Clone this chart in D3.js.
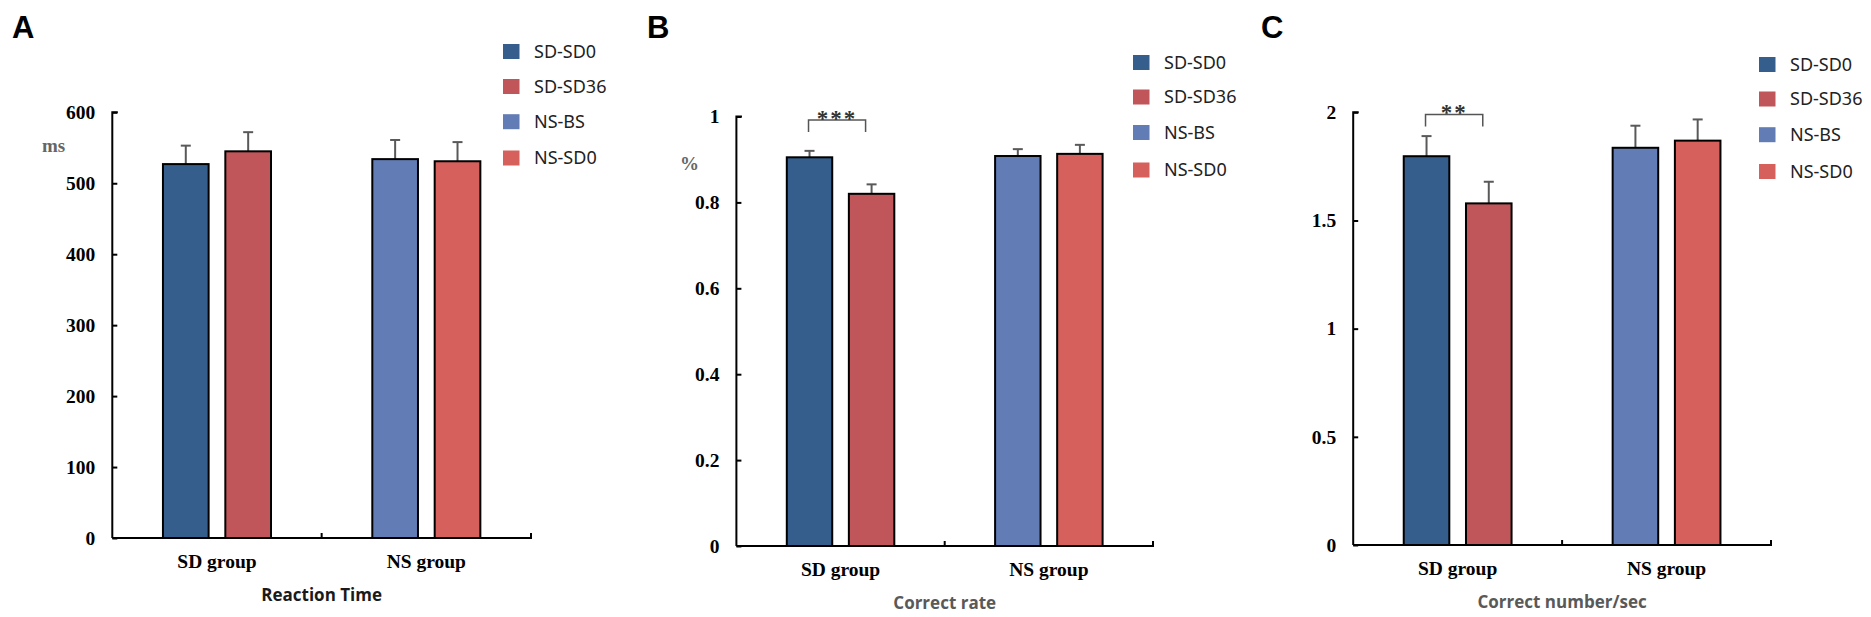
<!DOCTYPE html>
<html>
<head>
<meta charset="utf-8">
<script src="https://cdn.jsdelivr.net/npm/d3@7"></script>
<style>
  html, body { margin: 0; padding: 0; background: #fff; }
  svg { display: block; }
</style>
</head>
<body>
<svg id="chart" width="1871" height="617"></svg>
<script>
// ---------------- DATA ----------------
const categories = ["SD group", "NS group"];
const seriesNames = ["SD-SD0", "SD-SD36", "NS-BS", "NS-SD0"];
const seriesGroup = [0, 0, 1, 1];          // which category each series belongs to
const seriesColors = ["#365e8c", "#c0565a", "#627cb6", "#d5605c"];

const rtMeans = [527, 545, 534, 531];
const rtErrors = [26, 27, 27, 27];
const rtTicks = [0, 100, 200, 300, 400, 500, 600];

const crMeans = [0.905, 0.820, 0.908, 0.913];
const crErrors = [0.015, 0.022, 0.016, 0.021];
const crTicks = [0, 0.2, 0.4, 0.6, 0.8, 1];

const cnMeans = [1.797, 1.579, 1.836, 1.869];
const cnErrors = [0.093, 0.100, 0.102, 0.098];
const cnTicks = [0, 0.5, 1, 1.5, 2];

const panelLetters = ["A", "B", "C"];
const axisTitles = ["Reaction Time", "Correct rate", "Correct number/sec"];
const unitLabels = ["ms", "%", ""];
const crBracket = { top: 0.992, label: "***" };
const cnBracket = { top: 1.99, label: "**" };

// ---------------- LAYOUT ----------------
const panels = [
  { letter: panelLetters[0], means: rtMeans, errors: rtErrors, ticks: rtTicks, max: 600,
    title: axisTitles[0], unit: unitLabels[0], bracket: null,
    x0: 112.3, x1: 531, yTop: 112.3, yBot: 538, letterX: 12,
    legendX: 503, legendY: [51.5, 86.5, 121.7, 158], titleColor: "#1a1a1a",
    unitX: 42, unitY: 145, tickFmt: d3.format("d") },
  { letter: panelLetters[1], means: crMeans, errors: crErrors, ticks: crTicks, max: 1,
    title: axisTitles[1], unit: unitLabels[1], bracket: crBracket,
    x0: 736.4, x1: 1153, yTop: 116.5, yBot: 546, letterX: 647,
    legendX: 1133, legendY: [62.5, 97, 132.5, 170], titleColor: "#595959",
    unitX: 680, unitY: 163, tickFmt: d => d === 0 || d === 1 ? String(d) : d3.format(".1f")(d) },
  { letter: panelLetters[2], means: cnMeans, errors: cnErrors, ticks: cnTicks, max: 2,
    title: axisTitles[2], unit: unitLabels[2], bracket: cnBracket,
    x0: 1353.2, x1: 1771, yTop: 112.3, yBot: 545, letterX: 1261,
    legendX: 1759, legendY: [64.5, 99, 134.7, 171.5], titleColor: "#595959",
    unitX: 0, unitY: 0, tickFmt: d => String(d) }
];

const svg = d3.select("#chart");
const serif = "'Liberation Serif', 'Times New Roman', serif";

panels.forEach(p => {
  const g = svg.append("g");

  const x = d3.scaleBand().domain(categories).range([p.x0, p.x1]).paddingInner(0).paddingOuter(0);
  const inner = d3.scaleBand().domain([0, 1]).range([0, x.bandwidth()])
    .paddingInner(0.268).paddingOuter(0.812);
  const y = d3.scaleLinear().domain([0, p.max]).range([p.yBot, p.yTop]);

  const bars = p.means.map((m, i) => ({
    name: seriesNames[i], mean: m, err: p.errors[i],
    cat: categories[seriesGroup[i]], slot: i % 2, color: seriesColors[i]
  }));
  const barX = d => x(d.cat) + inner(d.slot);
  const barC = d => barX(d) + inner.bandwidth() / 2;

  // Panel letter
  g.append("text").attr("x", p.letterX).attr("y", 38)
    .style("font-family", "'Liberation Sans', Arial, sans-serif")
    .style("font-weight", "bold").style("font-size", "31px").attr("fill", "#000")
    .text(p.letter);

  // Error bars (upper only)
  const eb = g.append("g").attr("stroke", "#595959").attr("stroke-width", 2);
  eb.selectAll("line.v").data(bars).join("line")
    .attr("x1", barC).attr("x2", barC)
    .attr("y1", d => y(d.mean)).attr("y2", d => y(d.mean + d.err));
  eb.selectAll("line.c").data(bars).join("line")
    .attr("x1", d => barC(d) - 5).attr("x2", d => barC(d) + 5)
    .attr("y1", d => y(d.mean + d.err)).attr("y2", d => y(d.mean + d.err));

  // Bars
  g.selectAll("rect.bar").data(bars).join("rect")
    .attr("x", barX).attr("width", inner.bandwidth())
    .attr("y", d => y(d.mean)).attr("height", d => y(0) - y(d.mean))
    .attr("fill", d => d.color).attr("stroke", "#000").attr("stroke-width", 2);

  // Y axis
  const yAxis = d3.axisRight(y).tickValues(p.ticks).tickSize(5).tickFormat("");
  const ya = g.append("g").attr("transform", `translate(${p.x0},0)`).call(yAxis);
  ya.select(".domain").attr("stroke", "#000").attr("stroke-width", 2)
    .attr("d", `M5.5,${y(p.max)}H0V${y(0)}`);
  ya.selectAll(".tick line").attr("stroke", "#000").attr("stroke-width", 2);
  g.selectAll("text.ytick").data(p.ticks).join("text")
    .attr("x", p.x0 - 17).attr("y", d => y(d)).attr("dy", "0.35em")
    .attr("text-anchor", "end")
    .style("font-family", serif).style("font-weight", "bold").style("font-size", "19.5px")
    .attr("fill", "#000").text(p.tickFmt);

  // X axis
  const xa = g.append("g").attr("transform", `translate(0,${p.yBot})`)
    .call(d3.axisBottom(x).tickSize(0).tickFormat(""));
  xa.select(".domain").attr("stroke", "#000").attr("stroke-width", 2)
    .attr("d", `M${p.x0},0H${p.x1}V-5`);
  xa.selectAll(".tick").remove();
  const mid = x(categories[1]);
  xa.append("line").attr("x1", mid).attr("x2", mid).attr("y1", 0).attr("y2", -5)
    .attr("stroke", "#000").attr("stroke-width", 2);

  g.selectAll("text.xcat").data(categories).join("text")
    .attr("x", d => x(d) + x.bandwidth() / 2).attr("y", p.yBot + 30)
    .attr("text-anchor", "middle")
    .style("font-family", serif).style("font-weight", "bold").style("font-size", "19.5px")
    .attr("fill", "#000").text(d => d);

  // Axis title
  g.append("text").attr("x", (p.x0 + p.x1) / 2).attr("y", p.yBot + 63)
    .attr("text-anchor", "middle")
    .style("font-family", "'Open Sans', 'Noto Sans', sans-serif")
    .style("font-weight", "bold").style("font-size", "17px")
    .attr("fill", p.titleColor).text(p.title);

  // Unit label
  if (p.unit) {
    g.append("text").attr("x", p.unitX).attr("y", p.unitY).attr("dy", "0.35em")
      .style("font-family", serif).style("font-weight", "bold").style("font-size", "19px")
      .attr("fill", "#666").text(p.unit);
  }

  // Significance bracket
  if (p.bracket) {
    const b0 = bars[0], b1 = bars[1];
    const lx = barC(b0) - 1, rx = barC(b1) - 6, ty = y(p.bracket.top);
    g.append("path").attr("d", `M${lx},${ty + 12}V${ty}H${rx}V${ty + 12}`)
      .attr("fill", "none").attr("stroke", "#555").attr("stroke-width", 1.5);
    g.append("text").attr("x", (lx + rx) / 2).attr("y", ty + 6)
      .attr("text-anchor", "middle")
      .style("font-family", serif).style("font-weight", "bold").style("font-size", "23px")
      .style("letter-spacing", "2px")
      .attr("fill", "#333").text(p.bracket.label);
  }

  // Legend
  const lg = g.append("g");
  seriesNames.forEach((n, i) => {
    lg.append("rect").attr("x", p.legendX).attr("y", p.legendY[i] - 7.5)
      .attr("width", 16.5).attr("height", 15).attr("fill", seriesColors[i]);
    lg.append("text").attr("x", p.legendX + 31).attr("y", p.legendY[i]).attr("dy", "0.36em")
      .style("font-family", "'Noto Sans', sans-serif").style("font-size", "18px")
      .attr("fill", "#222").text(n);
  });
});
</script>
</body>
</html>
